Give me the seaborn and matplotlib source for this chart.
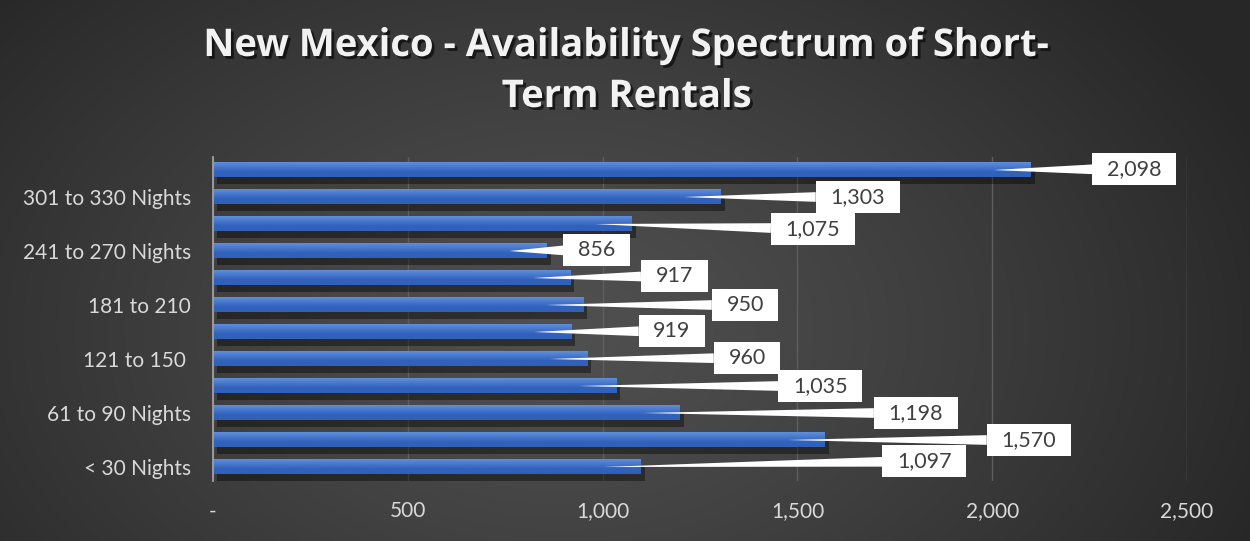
import numpy as np
import matplotlib
matplotlib.use("Agg")
import matplotlib.pyplot as plt
import matplotlib.patheffects as pe
import seaborn as sns

# ---- data (top to bottom, as drawn) ----
categories = ["331 to 365 Nights", "301 to 330 Nights", "271 to 300 Nights",
              "241 to 270 Nights", "211 to 240", "181 to 210", "151 to 180",
              "121 to 150 ", "91 to 120", "61 to 90 Nights", "31 to 60 Nights",
              "< 30 Nights"]
values = [2098, 1303, 1075, 856, 917, 950, 919, 960, 1035, 1198, 1570, 1097]
shown_labels = ["", "301 to 330 Nights", "", "241 to 270 Nights", "", "181 to 210",
                "", "121 to 150 ", "", "61 to 90 Nights", "", "< 30 Nights"]
x_ticks = [0, 500, 1000, 1500, 2000, 2500]
x_ticklabels = ["-", "500", "1,000", "1,500", "2,000", "2,500"]

# ---- layout of the callout boxes (pixels from bar end / bar centre) ----
label_dx = [104, 137, 181, 50, 104, 162, 101, 160, 204, 236, 204, 284]
label_dy = [1, 0, -5, 1, 2, 0, 1, 1, 0, 0, 0, 6]

sns.set_theme(style="dark")
plt.rcParams["font.family"] = ["Lato", "DejaVu Sans"]

W, H = 1250, 541
fig = plt.figure(figsize=(W / 100, H / 100), dpi=100)

# background radial gradient
bg = fig.add_axes([0, 0, 1, 1], zorder=-10)
yy, xx = np.mgrid[0:H, 0:W]
cx, cy = 560, 330
r = np.sqrt(((xx - cx) / 760.0) ** 2 + ((yy - cy) / 520.0) ** 2)
r = np.clip(r, 0, 1)
light, dark = 0x50 / 255, 0x27 / 255
g = light + (dark - light) * r ** 1.2
bg.imshow(np.dstack([g, g, g]), aspect="auto", extent=(0, 1, 0, 1))
bg.set_axis_off()

ax = fig.add_axes([213 / W, 1 - 480.5 / H, 974 / W, 324 / H])
ax.set_facecolor("none")

sns.barplot(x=values, y=categories, orient="h", color="#4472c4", saturation=1,
            width=0.52, ax=ax, zorder=3, linewidth=0, edgecolor="none")

# gradient + shadow on each bar
top_c = np.array([0x60, 0x8e, 0xdc]) / 255
bot_c = np.array([0x30, 0x61, 0xbb]) / 255
img = np.zeros((50, 1, 3))
for i in range(50):
    f2 = min(1.0, (i / 49) * 1.5)
    img[i, 0] = top_c * (1 - f2) + bot_c * f2
for p in ax.patches:
    p.set_path_effects([pe.SimplePatchShadow(offset=(3, -5), shadow_rgbFace="black", alpha=0.4),
                        pe.Normal()])
    x0, y0 = p.get_x(), p.get_y()
    w, h = p.get_width(), p.get_height()
    ax.imshow(img, extent=(x0, x0 + w, y0 + h, y0), aspect="auto", zorder=4,
              clip_path=p, clip_on=True, interpolation="bilinear")

ax.set_xlim(0, 2500)
ax.set_ylim(11.5, -0.5)
ax.set_xticks(x_ticks)
ax.set_xticklabels(x_ticklabels)
ax.set_yticks(range(len(categories)))
ax.set_yticklabels(shown_labels)
ax.tick_params(axis="x", colors="#d9d9d9", labelsize=15, pad=15, length=0)
ax.tick_params(axis="y", colors="#d9d9d9", labelsize=15, pad=16, length=0)
ax.set_xlabel("")
ax.set_ylabel("")
ax.grid(axis="x", color="#5e5e5e", lw=1, zorder=0)
ax.grid(axis="y", visible=False)
for s in ["top", "right", "bottom"]:
    ax.spines[s].set_visible(False)
ax.spines["left"].set_color("#a0a0a0")
ax.spines["left"].set_linewidth(1.3)
ax.spines["left"].set_zorder(6)

# callout labels
px_per_unit = 974 / 2500
inside = 37 / px_per_unit
for k, v in enumerate(values):
    ax.annotate(f"{v:,}", xy=(v - inside, k),
                xytext=(label_dx[k] + 37, label_dy[k]), textcoords="offset pixels",
                ha="center", va="center", fontsize=15.5, color="#404040", zorder=8,
                bbox=dict(boxstyle="square,pad=0.68", fc="white", ec="none",
                          mutation_aspect=0.4),
                arrowprops=dict(arrowstyle="wedge,tail_width=0.45,shrink_factor=0.5",
                                fc="white", ec="none", lw=0, shrinkA=0, shrinkB=0))

# title
title_fx = [pe.withSimplePatchShadow(offset=(2, -2), shadow_rgbFace="black", alpha=0.6)]
for txt, ypx in [("New Mexico - Availability Spectrum of Short-", 46), ("Term Rentals", 97)]:
    fig.text(627 / W, 1 - ypx / H, txt, ha="center", va="center", fontsize=27.5,
             fontweight="bold", color="#f2f2f2", family=["Open Sans", "DejaVu Sans"],
             path_effects=title_fx)

fig.savefig("out.png", dpi=100)
